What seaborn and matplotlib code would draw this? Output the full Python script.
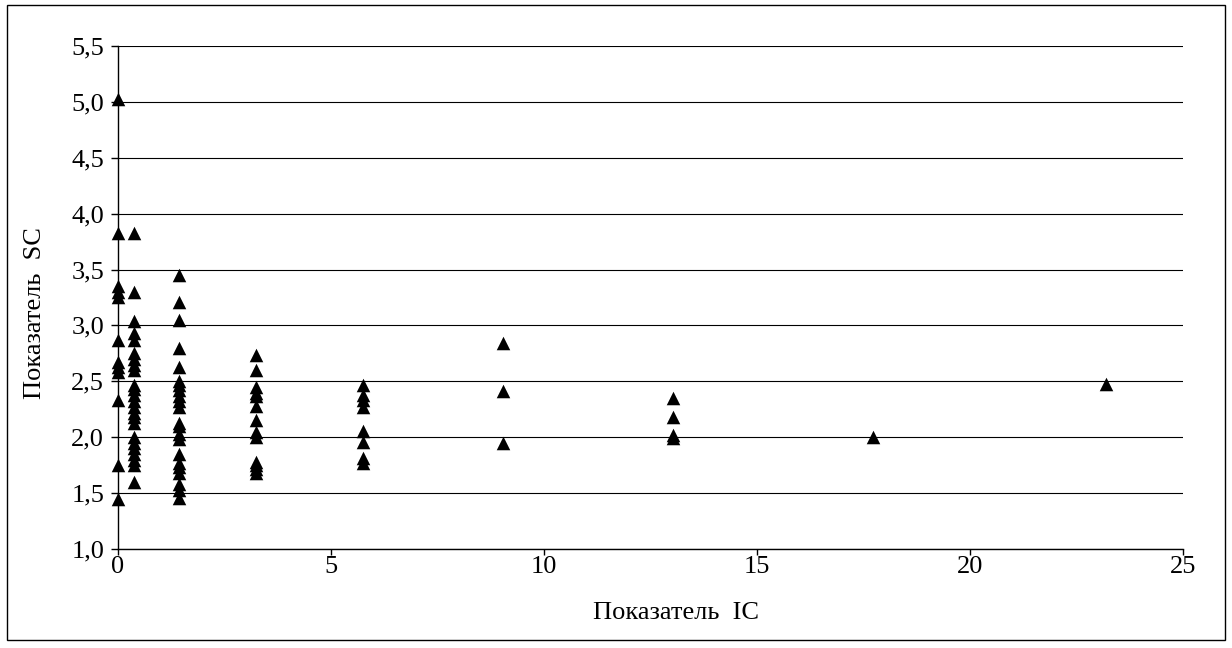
import matplotlib
matplotlib.use("Agg")
import matplotlib.pyplot as plt
import seaborn as sns
import pandas as pd
from matplotlib.patches import Rectangle
from matplotlib.ticker import FuncFormatter, MultipleLocator

sns.set_theme(style="white")
plt.rcParams['font.family'] = ['Liberation Serif', 'DejaVu Serif']

x_levels = [0.0, 0.37, 1.43, 3.24, 5.75, 9.04, 13.03, 17.72, 23.19]
sc_0 = [5.03, 3.83, 3.35, 3.30, 3.25, 2.87, 2.67, 2.63, 2.58, 2.33, 1.75, 1.45]
sc_037 = [3.83, 3.30, 3.04, 2.93, 2.87, 2.75, 2.70, 2.65, 2.60, 2.47, 2.43, 2.38,
          2.32, 2.27, 2.22, 2.18, 2.13, 2.00, 1.95, 1.90, 1.85, 1.80, 1.75, 1.60]
sc_143 = [3.45, 3.21, 3.05, 2.80, 2.63, 2.50, 2.47, 2.42, 2.37, 2.32, 2.27, 2.13,
          2.10, 2.03, 1.98, 1.85, 1.77, 1.73, 1.68, 1.58, 1.53, 1.46]
sc_324 = [2.74, 2.60, 2.45, 2.40, 2.37, 2.28, 2.15, 2.05, 2.00, 1.78, 1.75, 1.72, 1.68]
sc_575 = [2.47, 2.38, 2.33, 2.27, 2.06, 1.96, 1.81, 1.77]
sc_904 = [2.84, 2.41, 1.95]
sc_1303 = [2.35, 2.18, 2.02, 1.99]
sc_1772 = [2.00]
sc_2319 = [2.48]
groups = [sc_0, sc_037, sc_143, sc_324, sc_575, sc_904, sc_1303, sc_1772, sc_2319]

xs, ys = [], []
for xv, g in zip(x_levels, groups):
    for yv in g:
        xs.append(xv)
        ys.append(yv)
df = pd.DataFrame({"IC": xs, "SC": ys})

fig = plt.figure(figsize=(12.32, 6.48), dpi=100)
ax = fig.add_axes([0.0958, 0.1528, 0.8645, 0.7762])

sns.scatterplot(data=df, x="IC", y="SC", marker="^", color="black", s=95,
                edgecolor="black", linewidth=0, ax=ax, zorder=3, clip_on=False)

ax.set_xlim(0, 25)
ax.set_ylim(1.0, 5.5)
ax.xaxis.set_major_locator(MultipleLocator(5))
ax.yaxis.set_major_locator(MultipleLocator(0.5))
ax.yaxis.set_major_formatter(FuncFormatter(lambda v, p: f"{v:.1f}".replace(".", ",")))
ax.xaxis.set_major_formatter(FuncFormatter(lambda v, p: f"{int(round(v))}"))
ax.grid(axis="y", color="black", linewidth=0.8)
ax.grid(axis="x", visible=False)
for s in ["top", "right"]:
    ax.spines[s].set_visible(False)
for s in ["left", "bottom"]:
    ax.spines[s].set_color("black")
    ax.spines[s].set_linewidth(1.0)
ax.tick_params(axis="both", direction="out", length=5, width=1, color="black",
               labelsize=19, labelcolor="black", bottom=True, left=True)
ax.tick_params(axis="x", length=4, pad=1)
ax.tick_params(axis="y", pad=5)
ax.set_xlabel("Показатель  IC", fontsize=19, color="black")
ax.set_ylabel("Показатель  SC", fontsize=19, color="black")
ax.xaxis.set_label_coords(0.524, -0.105)
ax.yaxis.set_label_coords(-0.068, 0.47)

fig.patches.append(Rectangle((0.006, 0.012), 0.988, 0.98, transform=fig.transFigure,
                             fill=False, edgecolor="black", linewidth=1.0))

fig.savefig("out.png", dpi=100)
